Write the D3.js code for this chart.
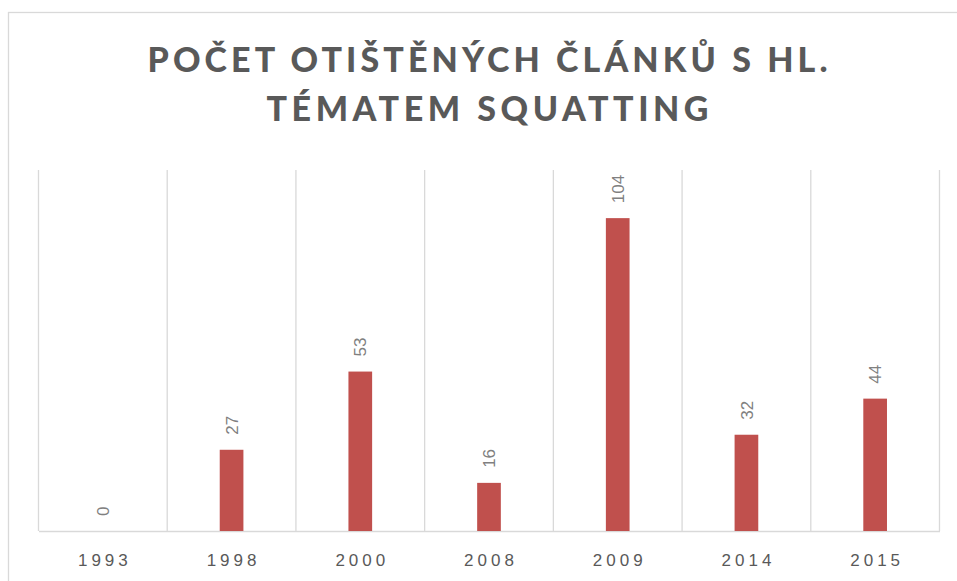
<!DOCTYPE html>
<html>
<head>
<meta charset="utf-8">
<script src="https://cdn.jsdelivr.net/npm/d3@7"></script>
<style>
  body { margin: 0; background: #fff; }
  svg { display: block; }
</style>
</head>
<body>
<div id="chart"></div>
<script>
var years = ["1993", "1998", "2000", "2008", "2009", "2014", "2015"];
var counts = [0, 27, 53, 16, 104, 32, 44];
var titleLines = ["POČET OTIŠTĚNÝCH ČLÁNKŮ S HL.", "TÉMATEM SQUATTING"];

var width = 957;
var height = 581;
var plotLeft = 38.5, plotRight = 939.5, plotTop = 170, plotBottom = 531;

var svg = d3.select('#chart')
            .append('svg')
            .attr('width', width)
            .attr('height', height);

// outer chart frame (runs off the right and bottom edge)
svg.append('rect')
   .attr('x', 8.5)
   .attr('y', 12.5)
   .attr('width', 1000)
   .attr('height', 1000)
   .attr('fill', 'none')
   .attr('stroke', '#d9d9d9')
   .attr('stroke-width', 1.3);

// title
svg.selectAll('.title')
   .data(titleLines)
   .enter()
   .append('text')
   .attr('class', 'title')
   .attr('x', 487.5)
   .attr('y', function(d, i){ return 72 + i * 49; })
   .attr('text-anchor', 'middle')
   .attr('font-family', 'Lato, "Liberation Sans", sans-serif')
   .attr('font-weight', 900)
   .attr('font-size', 34)
   .attr('fill', '#595959')
   .attr('textLength', function(d, i){ return i == 0 ? 680 : 442; })
   .attr('lengthAdjust', 'spacing')
   .text(function(d){ return d; });

var x = d3.scaleBand().domain(years).range([plotLeft, plotRight]).padding(0);
var y = d3.scaleLinear().domain([0, 120]).range([plotBottom, plotTop]);
var barWidth = x.bandwidth() * 0.184;

// vertical gridlines at category edges
var edges = years.map(function(d){ return x(d); }).concat([plotRight]);
svg.selectAll('.grid')
   .data(edges)
   .enter()
   .append('line')
   .attr('x1', function(d){ return d; })
   .attr('x2', function(d){ return d; })
   .attr('y1', plotTop)
   .attr('y2', plotBottom)
   .attr('stroke', '#d9d9d9')
   .attr('stroke-width', 1.3);

// baseline axis
var xAxis = d3.axisBottom(x).tickSize(0).tickPadding(23);
var gx = svg.append('g')
   .attr('transform', 'translate(0,' + plotBottom + ')')
   .call(xAxis);
gx.select('.domain').attr('stroke', '#d9d9d9').attr('stroke-width', 1.5);
gx.selectAll('text')
  .attr('font-family', '"Liberation Sans", Arial, sans-serif')
  .attr('font-size', 17)
  .attr('letter-spacing', 4)
  .attr('dx', 2)
  .attr('fill', '#595959');

// bars
svg.selectAll('.bar')
   .data(counts)
   .enter()
   .append('rect')
   .attr('class', 'bar')
   .attr('x', function(d, i){ return x(years[i]) + x.bandwidth() / 2 - barWidth / 2; })
   .attr('y', function(d){ return y(d); })
   .attr('width', barWidth)
   .attr('height', function(d){ return y(0) - y(d); })
   .attr('fill', '#c0504d');

// value labels, rotated
svg.selectAll('.val')
   .data(counts)
   .enter()
   .append('text')
   .attr('class', 'val')
   .attr('transform', function(d, i){
     return 'translate(' + (x(years[i]) + x.bandwidth() / 2) + ',' + (y(d) - 15) + ') rotate(-90)';
   })
   .attr('dy', '0.36em')
   .attr('font-family', '"Liberation Sans", Arial, sans-serif')
   .attr('font-size', 17)
   .attr('fill', '#808080')
   .text(function(d){ return d; });
</script>
</body>
</html>
